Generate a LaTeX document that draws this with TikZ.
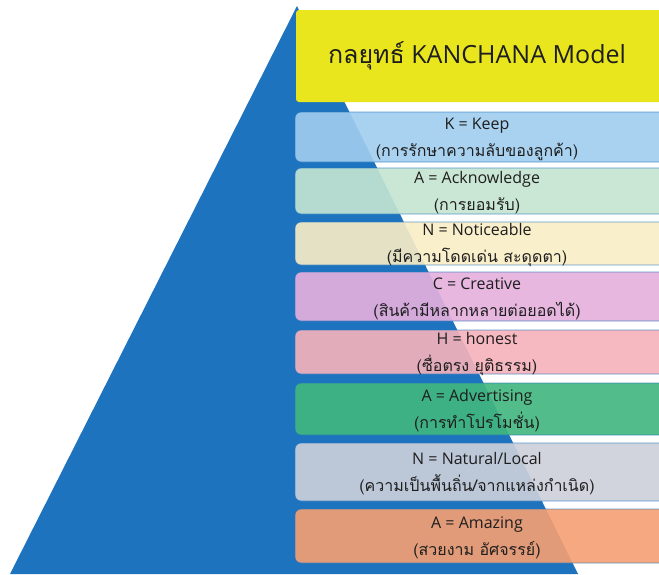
\documentclass[tikz,border=0pt]{standalone}
\usepackage{fontspec}
\setmainfont{Open Sans}
\newfontfamily\thaifont{Loma}[Script=Thai]
\definecolor{pyrblue}{RGB}{30,115,190}
\definecolor{titleyellow}{RGB}{234,230,30}
\definecolor{keepblue}{RGB}{160,205,238}
\definecolor{ackgreen}{RGB}{197,229,209}
\definecolor{notcream}{RGB}{249,237,198}
\definecolor{crepink}{RGB}{229,176,221}
\definecolor{honpink}{RGB}{246,178,187}
\definecolor{advgreen}{RGB}{65,183,127}
\definecolor{natgray}{RGB}{204,208,218}
\definecolor{amzorange}{RGB}{245,160,115}
\definecolor{textdark}{RGB}{30,30,30}
\begin{document}
\begin{tikzpicture}[x=1pt,y=-1pt,
  layer/.style={draw=pyrblue, line width=0.8pt, rounded corners=6pt, fill opacity=0.91, draw opacity=0.7},
  boxtext/.style={align=center, text=textdark, font=\fontsize{16}{27}\selectfont}]
  \useasboundingbox (0,0) rectangle (659,574);
  \clip (0,0) rectangle (659,574);
  % pyramid behind the boxes
  \fill[pyrblue] (297,6) -- (578,574) -- (10,574) -- cycle;
  \fill[titleyellow, rounded corners=3pt] (296,10) rectangle (670,102);
  \node[text=textdark, font=\fontsize{25}{30}\selectfont] (title) at (477,56) {{\thaifont กลยุทธ์} KANCHANA Model};
  % KANCHANA steps
  \draw[layer, fill=keepblue] (295,112) rectangle (670,162);
  \node[boxtext] (keep) at (477,139) {K = Keep\\\thaifont (การรักษาความลับของลูกค้า)};
  \draw[layer, fill=ackgreen] (295,168) rectangle (670,214);
  \node[boxtext] (acknowledge) at (477,193) {A = Acknowledge\\\thaifont (การยอมรับ)};
  \draw[layer, fill=notcream] (295,222) rectangle (670,265);
  \node[boxtext] (noticeable) at (477,245.5) {N = Noticeable\\\thaifont (มีความโดดเด่น สะดุดตา)};
  \draw[layer, fill=crepink] (295,272) rectangle (670,321);
  \node[boxtext] (creative) at (477,298.5) {C = Creative\\\thaifont (สินค้ามีหลากหลายต่อยอดได้)};
  \draw[layer, fill=honpink] (295,330) rectangle (670,374);
  \node[boxtext] (honest) at (477,354) {H = honest\\\thaifont (ซื่อตรง ยุติธรรม)};
  \draw[layer, fill=advgreen] (295,383) rectangle (670,435);
  \node[boxtext] (advertising) at (477,411) {A = Advertising\\\thaifont (การทำโปรโมชั่น)};
  \draw[layer, fill=natgray] (295,443) rectangle (670,501);
  \node[boxtext] (natural) at (477,474) {N = Natural/Local\\\thaifont (ความเป็นพื้นถิ่น/จากแหล่งกำเนิด)};
  \draw[layer, fill=amzorange] (295,509) rectangle (670,563);
  \node[boxtext] (amazing) at (477,538) {A = Amazing\\\thaifont (สวยงาม อัศจรรย์)};
\end{tikzpicture}
\end{document}
